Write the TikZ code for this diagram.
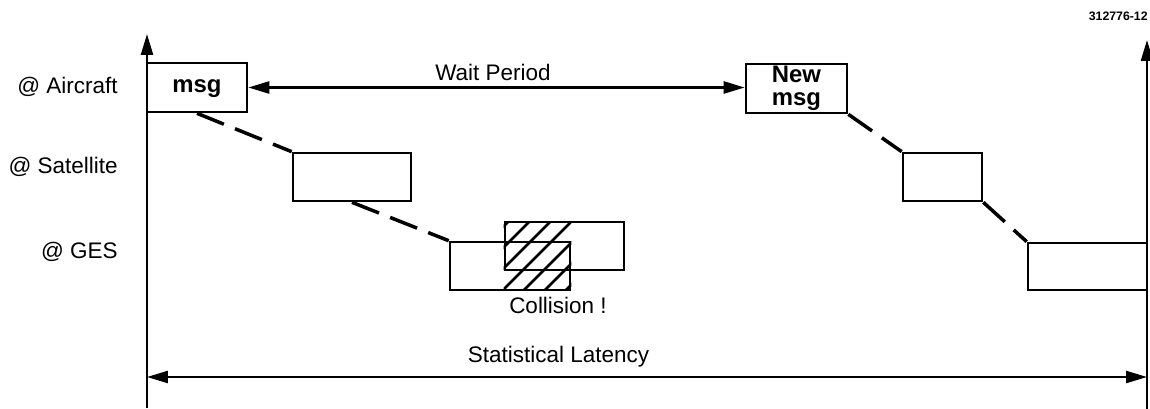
\documentclass[tikz,border=0pt]{standalone}
\usepackage{fontspec}
\setmainfont{Liberation Sans}
\usetikzlibrary{arrows.meta}

\begin{document}
\begin{tikzpicture}[x=0.02cm, y=-0.02cm,
  font=\fontsize{12.8}{15}\selectfont,
  >={Triangle[length=0.42cm,width=0.24cm]},
  box/.style={draw, rectangle, line width=1.5pt, inner sep=0pt},
  msgtext/.style={font=\fontsize{13.6}{13}\selectfont\bfseries, align=center},
  link/.style={line width=2pt, dash pattern=on 0.58cm off 0.24cm},
  axis/.style={line width=1.4pt},
  lbl/.style={inner sep=0pt, anchor=base}]
\useasboundingbox (0,0) rectangle (1150,409);

% Axes
\coordinate (lbot) at (147,408);
\coordinate (ltop) at (147,34);
\coordinate (rbot) at (1147,409);
\coordinate (rtop) at (1147,40);
\draw[axis,->] (lbot) -- (ltop);
\draw[axis,->] (rbot) -- (rtop);

% Nodes
\node[box, msgtext, minimum width=2cm, minimum height=0.98cm, text depth=0.05cm] (msg) at (197,87.5) {msg};
\node[box, msgtext, minimum width=2.02cm, minimum height=0.98cm] (newmsg) at (796.5,88.5) {New\\msg};
\node[box, minimum width=2.36cm, minimum height=0.96cm] (sat1) at (352,177) {};
\node[box, minimum width=1.58cm, minimum height=0.96cm] (sat2) at (942.5,177) {};
\node[box, minimum width=2.4cm, minimum height=0.96cm] (gesA) at (510,266) {};
\node[box, minimum width=2.38cm, minimum height=0.96cm] (gesB) at (564.5,246) {};
\node[box, minimum width=2.38cm, minimum height=0.94cm] (gesC) at (1087.5,266.5) {};

% Collision hatching
\begin{scope}
\clip (gesB.north west) rectangle (gesA.south east);
\foreach \x in {440,461,...,575} \draw[line width=1.5pt] (\x,290) -- ++(68,-68);
\end{scope}

% Arrows
\draw[link] (msg.south) -- (sat1.north west);
\draw[link] (sat1.south) -- (gesA.north west);
\draw[link] (newmsg.south east) -- (sat2.north west);
\draw[link] (sat2.south east) -- (gesC.north west);
\draw[<->, line width=1.4pt] (msg.east) -- (msg.east -| newmsg.west);
\coordinate (latl) at (147,377);
\coordinate (latr) at (1147,377);
\draw[<->, line width=1.4pt] (latl) -- (latr);

% Labels
\node[lbl, anchor=base east] (aircraft) at (118,93) {@ Aircraft};
\node[lbl, anchor=base east] (satellite) at (118,173) {@ Satellite};
\node[lbl, anchor=base east] (ges) at (118,258) {@ GES};
\node[lbl] (wait) at (493,80) {Wait Period};
\node[lbl] (latency) at (558.5,362) {Statistical Latency};
\node[lbl] (collision) at (558,313) {Collision !};
\node[lbl, anchor=base east, font=\fontsize{7}{8}\selectfont\bfseries] (figno) at (1148,20) {312776-12};
\end{tikzpicture}
\end{document}
